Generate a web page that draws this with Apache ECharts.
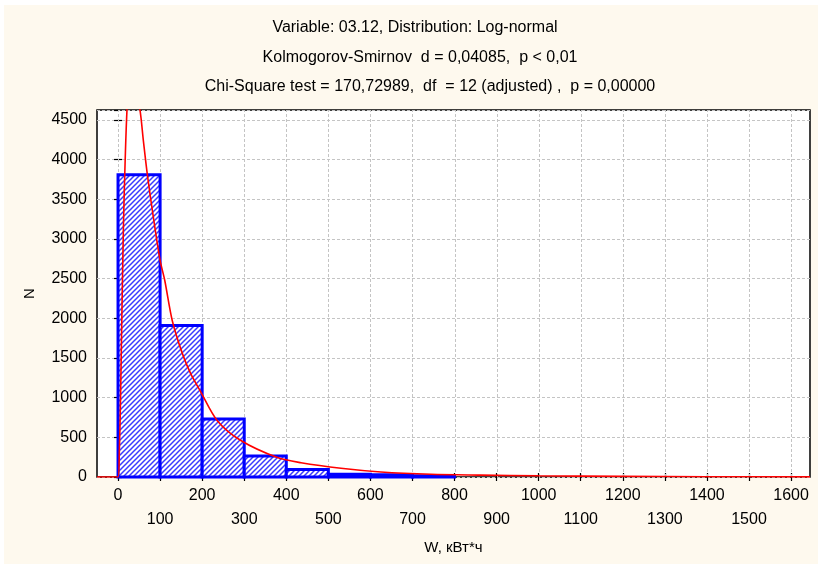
<!DOCTYPE html>
<html>
<head>
<meta charset="utf-8">
<script src="https://cdn.jsdelivr.net/npm/echarts@6/dist/echarts.min.js"></script>
<style>
  html, body { margin: 0; padding: 0; background: #ffffff; }
  #chart { width: 818px; height: 564px; }
</style>
</head>
<body>
<div id="chart"></div>
<script>
// ---- data ----
const titleLines = [
  'Variable: 03.12, Distribution: Log-normal',
  'Kolmogorov-Smirnov  d = 0,04085,  p < 0,01',
  'Chi-Square test = 170,72989,  df  = 12 (adjusted) ,  p = 0,00000'
];
const xAxisName = 'W, кВт*ч';
const yAxisName = 'N';
const binStarts = [0, 100, 200, 300, 400, 500, 600, 700];
const binEnds   = [100, 200, 300, 400, 500, 600, 700, 800];
const binCounts = [3810, 1910, 730, 265, 95, 34, 28, 15];
const xTicks = [0, 100, 200, 300, 400, 500, 600, 700, 800, 900, 1000, 1100, 1200, 1300, 1400, 1500, 1600];
// fitted log-normal curve
const curveX = [-50, 0, 3, 6, 9, 13, 17, 22, 30, 52, 60, 70, 86, 100, 111, 129, 153, 173, 195, 236, 292, 379, 435, 530, 625, 744, 863, 1000, 1200, 1400, 1645];
const curveY = [0, 0, 300, 1000, 2000, 3200, 4000, 4700, 5200, 4630, 4250, 3800, 3200, 2730, 2480, 1970, 1555, 1300, 1090, 710, 460, 245, 180, 110, 63, 34, 24, 15, 8, 4, 2];

const X_MIN = -50, X_MAX = 1645, Y_MIN = 0, Y_MAX = 4626;

// ---- hatch pattern ----
const pc = document.createElement('canvas');
pc.width = 5; pc.height = 5;
const g = pc.getContext('2d');
g.fillStyle = '#ffffff';
g.fillRect(0, 0, 5, 5);
g.strokeStyle = '#3a3aff';
g.lineWidth = 1.5;
g.beginPath();
g.moveTo(-1, 6); g.lineTo(6, -1);
g.moveTo(-1, 1); g.lineTo(1, -1);
g.moveTo(4, 6); g.lineTo(6, 4);
g.stroke();

const chart = echarts.init(document.getElementById('chart'), null, { renderer: 'canvas' });
const FONT = 'Liberation Sans, Arial, sans-serif';

const binData = binStarts.map((s, i) => [s, binEnds[i], binCounts[i]]);
const curveData = curveX.map((x, i) => [x, curveY[i]]);
const titleX = [415, 420, 430];

const tickCommon = { inside: true, length: 4, lineStyle: { color: '#000', width: 1.2 }, customValues: xTicks };
const gridLineStyle = { color: '#c4c4c4', type: [3, 2], width: 1 };

chart.setOption({
  backgroundColor: '#ffffff',
  animation: false,
  graphic: [
    { type: 'rect', z: -10, shape: { x: 4, y: 5, width: 814, height: 559 }, style: { fill: '#FEF9EE' } },
    ...titleLines.map((t, i) => ({
      type: 'text', x: titleX[i], y: 28 + i * 29.5,
      style: { text: t, font: '16px ' + FONT, fill: '#000', align: 'center', verticalAlign: 'middle' }
    }))
  ],
  grid: {
    left: 97, right: 8, top: 110, bottom: 87,
    show: true, backgroundColor: '#ffffff', borderColor: '#000', borderWidth: 1.5
  },
  xAxis: [{
    type: 'value', min: X_MIN, max: X_MAX, position: 'bottom',
    axisLine: { show: false },
    axisTick: tickCommon,
    splitLine: { show: false },
    axisLabel: {
      customValues: xTicks, margin: 7, color: '#000', fontSize: 16, fontFamily: FONT, lineHeight: 24,
      formatter: v => ((v / 100) % 2 === 0 ? String(v) : '\n' + v)
    },
    name: xAxisName, nameLocation: 'middle', nameGap: 63,
    nameTextStyle: { color: '#000', fontSize: 15, fontFamily: FONT }
  }, {
    type: 'value', min: X_MIN, max: X_MAX, position: 'top',
    axisLine: { show: false }, axisTick: tickCommon,
    axisLabel: { show: false }, splitLine: { show: false }
  }],
  yAxis: [{
    type: 'value', min: Y_MIN, max: Y_MAX, interval: 500,
    axisLine: { show: false },
    axisTick: { inside: true, length: 4, lineStyle: { color: '#000', width: 1.2 } },
    splitLine: { show: true, lineStyle: gridLineStyle },
    axisLabel: { margin: 10, color: '#000', fontSize: 16, fontFamily: FONT, showMaxLabel: false,
      formatter: v => (v > 4500 ? '' : String(v)) },
    name: yAxisName, nameLocation: 'middle', nameGap: 60, nameRotate: 90,
    nameTextStyle: { color: '#000', fontSize: 15, fontFamily: FONT }
  }, {
    type: 'value', min: Y_MIN, max: Y_MAX, interval: 500, position: 'right',
    axisLine: { show: false },
    axisTick: { inside: true, length: 4, lineStyle: { color: '#000', width: 1.2 } },
    axisLabel: { show: false }, splitLine: { show: false }
  }],
  series: [{
    // vertical grid lines at the labelled ticks
    type: 'custom',
    xAxisIndex: 0, yAxisIndex: 0,
    data: xTicks.map(v => [v]),
    encode: { x: 0 },
    silent: true,
    renderItem: (params, api) => {
      const a = api.coord([api.value(0), Y_MIN]);
      const b = api.coord([api.value(0), Y_MAX]);
      return {
        type: 'line',
        shape: { x1: Math.round(a[0]) + 0.5, y1: a[1], x2: Math.round(a[0]) + 0.5, y2: b[1] },
        style: { stroke: gridLineStyle.color, lineWidth: 1, lineDash: [3, 2] }
      };
    },
    z: 1
  }, {
    type: 'custom',
    xAxisIndex: 0, yAxisIndex: 0,
    data: binData,
    encode: { x: [0, 1], y: 2 },
    renderItem: (params, api) => {
      const p0 = api.coord([api.value(0), api.value(2)]);
      const p1 = api.coord([api.value(1), 0]);
      return {
        type: 'rect',
        shape: { x: p0[0], y: p0[1], width: p1[0] - p0[0], height: p1[1] - p0[1] },
        style: { fill: { image: pc, repeat: 'repeat' }, stroke: '#0000ff', lineWidth: 3 }
      };
    },
    z: 2
  }, {
    type: 'line',
    xAxisIndex: 0, yAxisIndex: 0,
    data: curveData,
    smooth: 0.3,
    showSymbol: false,
    clip: true,
    lineStyle: { color: '#ff0000', width: 1.6 },
    z: 3
  }]
});
</script>
</body>
</html>
